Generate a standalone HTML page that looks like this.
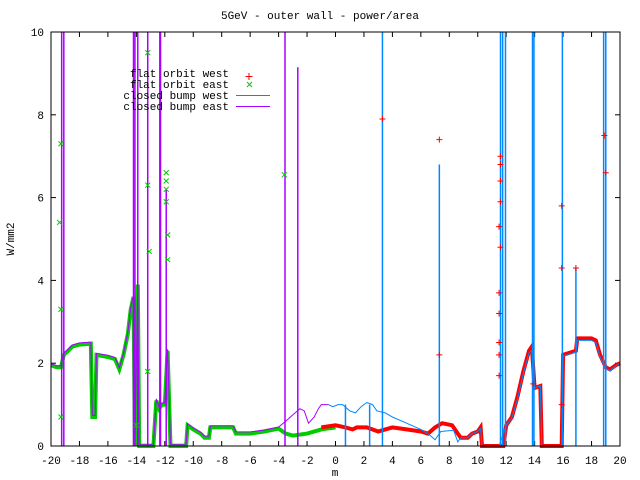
<!DOCTYPE html>
<html><head><meta charset="utf-8"><style>
body{margin:0;background:#fff}
svg{display:block}
text{font-family:"Liberation Mono","DejaVu Sans Mono",monospace;font-size:11px;fill:#000}
</style></head><body>
<svg id="s" width="640" height="480" xmlns="http://www.w3.org/2000/svg">
<rect width="640" height="480" fill="#fff"/>
<text x="320" y="19" text-anchor="middle">5GeV - outer wall - power/area</text>
<text x="335" y="476" text-anchor="middle">m</text>
<text transform="translate(14,239) rotate(-90)" text-anchor="middle">W/mm2</text>
<g id="ticks"></g>
<g id="data"></g>
<rect x="51" y="32" width="569" height="414" fill="none" stroke="#000" stroke-width="1"/>
<g>
<text x="229" y="77" text-anchor="end">flat orbit west</text>
<text x="229" y="88" text-anchor="end">flat orbit east</text>
<text x="229" y="99" text-anchor="end">closed bump west</text>
<text x="229" y="110" text-anchor="end">closed bump east</text>
<path d="M249,73v7M245.5,76.5h7" stroke="#f00"/>
<path d="M249,82l5,5M254,82l-5,5" stroke="#0c0" transform="translate(-2,0)"/>
<line x1="236" y1="95.5" x2="270" y2="95.5" stroke="#08f"/>
<line x1="236" y1="106.5" x2="270" y2="106.5" stroke="#a0f"/>
</g>
</svg>
<script>
const X=m=>51+(m+20)*14.225, Y=v=>446-v*41.4;
const ns="http://www.w3.org/2000/svg";
const T=document.getElementById('ticks'),D=document.getElementById('data');
function el(p,tag,a,txt){const e=document.createElementNS(ns,tag);for(const k in a)e.setAttribute(k,a[k]);if(txt!=null)e.textContent=txt;p.appendChild(e);return e;}
for(let m=-20;m<=20;m+=2){const x=X(m);el(T,'line',{x1:x,x2:x,y1:446,y2:441,stroke:'#000'});el(T,'line',{x1:x,x2:x,y1:32,y2:37,stroke:'#000'});el(T,'text',{x:x,y:464,'text-anchor':'middle'},String(m));}
for(let v=0;v<=10;v+=2){const y=Y(v);el(T,'line',{x1:51,x2:56,y1:y,y2:y,stroke:'#000'});el(T,'line',{x1:620,x2:615,y1:y,y2:y,stroke:'#000'});el(T,'text',{x:44,y:y+4,'text-anchor':'end'},String(v));}
function pl(pts,col,w){el(D,'polyline',{points:pts.map(p=>X(p[0]).toFixed(1)+','+Y(p[1]).toFixed(1)).join(' '),fill:'none',stroke:col,'stroke-width':w});}
function vl(m,v,col,w){el(D,'line',{x1:X(m),x2:X(m),y1:446,y2:Y(Math.min(v,10)),stroke:col,'stroke-width':w||1});}
const east=[[-20,1.95],[-19.6,1.9],[-19.3,1.9],[-19.1,2.2],[-18.8,2.3],[-18.5,2.4],[-18,2.45],[-17.2,2.47],[-17.1,0.7],[-16.9,0.7],[-16.8,2.2],[-16,2.15],[-15.5,2.1],[-15.2,1.85],[-14.9,2.2],[-14.6,2.7],[-14.4,3.3],[-14.2,3.6],[-14.1,0],[-13.9,3.9],[-13.8,0],[-13.1,0],[-12.8,0],[-12.6,1.1],[-12.4,0.9],[-12.2,1.0],[-12,1.0],[-11.8,2.3],[-11.6,0],[-10.5,0],[-10.4,0.5],[-10,0.4],[-9.5,0.3],[-9.2,0.2],[-8.9,0.2],[-8.8,0.45],[-8,0.45],[-7.2,0.45],[-7,0.3],[-6,0.3],[-5,0.35],[-4,0.42],[-3.5,0.3],[-3,0.25],[-2,0.3],[-1,0.4],[0,0.45]];
pl(east,'#0c0',4);
const eastP=east.filter(p=>p[0]<=-4).map(p=>[p[0],p[1]+0.04]).concat([[-3.5,0.6],[-3,0.75],[-2.5,0.9],[-2.2,0.85],[-1.9,0.55],[-1.5,0.7],[-1.2,0.9],[-1,1.0],[-0.5,1.0]]);
pl(eastP,'#a0f',1);
const west=[[-1,0.45],[0,0.5],[0.7,0.45],[1.2,0.4],[1.5,0.45],[2.2,0.45],[3,0.35],[3.5,0.4],[4,0.45],[5,0.4],[6,0.35],[6.5,0.3],[7,0.45],[7.5,0.55],[8.2,0.5],[8.6,0.3],[8.8,0.2],[9.3,0.2],[9.6,0.3],[10,0.35],[10.2,0.45],[10.3,0],[11.5,0],[11.8,0],[12,0.5],[12.4,0.7],[12.8,1.2],[13.2,1.8],[13.6,2.3],[13.8,2.4],[14,1.4],[14.4,1.45],[14.5,0],[15.9,0],[16,2.2],[16.9,2.3],[17,2.6],[18,2.6],[18.3,2.55],[18.6,2.2],[19,1.9],[19.3,1.85],[19.7,1.95],[20,2.0]];
pl(west,'#f00',4);
const bw=[[-0.5,1.0],[-0.2,0.95],[0.2,1.0],[0.5,1.0],[1,0.85],[1.4,0.8],[1.8,0.95],[2.2,1.05],[2.6,1.0],[2.9,0.85],[3.5,0.8],[4,0.7],[5,0.55],[6,0.4],[6.5,0.3],[7,0.15],[7.4,0.35],[8.3,0.38],[8.6,0.1],[8.8,0.2],[9.3,0.2],[9.6,0.3],[10,0.35],[10.2,0.42],[10.3,0],[11.5,0],[12,0.5],[12.4,0.68],[12.8,1.15],[13.2,1.75],[13.6,2.25],[13.8,2.3],[14,1.4],[14.4,1.45],[14.5,0],[15.9,0],[16,2.17],[16.9,2.27],[17,2.55],[18,2.55],[18.3,2.5],[18.6,2.15],[19,1.87],[19.3,1.82],[19.7,1.93],[20,2.0]];
pl(bw,'#08f',1);
[[-19.25,10],[-19.1,10],[-14.2,10],[-14.1,10],[-13.9,10],[-13.2,10],[-12.35,10],[-12.3,10],[-11.9,6.2],[-3.55,10],[-2.65,9.15]].forEach(s=>vl(s[0],s[1],'#a0f',1.5));
[[0.7,1],[2.4,1],[3.3,10],[7.3,6.8],[11.6,10],[11.75,10],[11.95,10],[13.85,10],[13.95,10],[15.95,10],[16.9,4.3],[18.85,10],[19.0,10]].forEach(s=>vl(s[0],s[1],'#08f',1.5));
function cross(m,v){const x=X(m),y=Y(v);el(D,'path',{d:`M${x-2.5},${y-2.5}l5,5M${x+2.5},${y-2.5}l-5,5`,stroke:'#0c0'});}
function plus(m,v){const x=X(m),y=Y(v);el(D,'path',{d:`M${x-3},${y}h6M${x},${y-3}v6`,stroke:'#f00'});}
[[-19.3,7.3],[-19.4,5.4],[-19.3,3.3],[-19.3,0.7],[-13.2,9.5],[-13.2,6.3],[-13.1,4.7],[-11.9,6.6],[-11.9,6.4],[-11.9,6.2],[-11.9,5.9],[-11.8,5.1],[-11.8,4.5],[-3.6,6.55],[-14,0.5],[-13.2,1.8]].forEach(p=>cross(p[0],p[1]));
[[3.3,7.9],[11.6,7.0],[11.6,6.8],[11.6,6.4],[11.6,5.9],[11.5,5.3],[11.6,4.8],[11.5,3.7],[11.5,3.2],[11.5,2.5],[11.5,2.2],[11.5,1.7],[15.9,5.8],[15.9,4.3],[16.9,4.3],[18.9,7.5],[19,6.6],[7.3,2.2],[7.3,7.4],[15.9,1.0],[13.9,1.5]].forEach(p=>plus(p[0],p[1]));
</script>
</body></html>
